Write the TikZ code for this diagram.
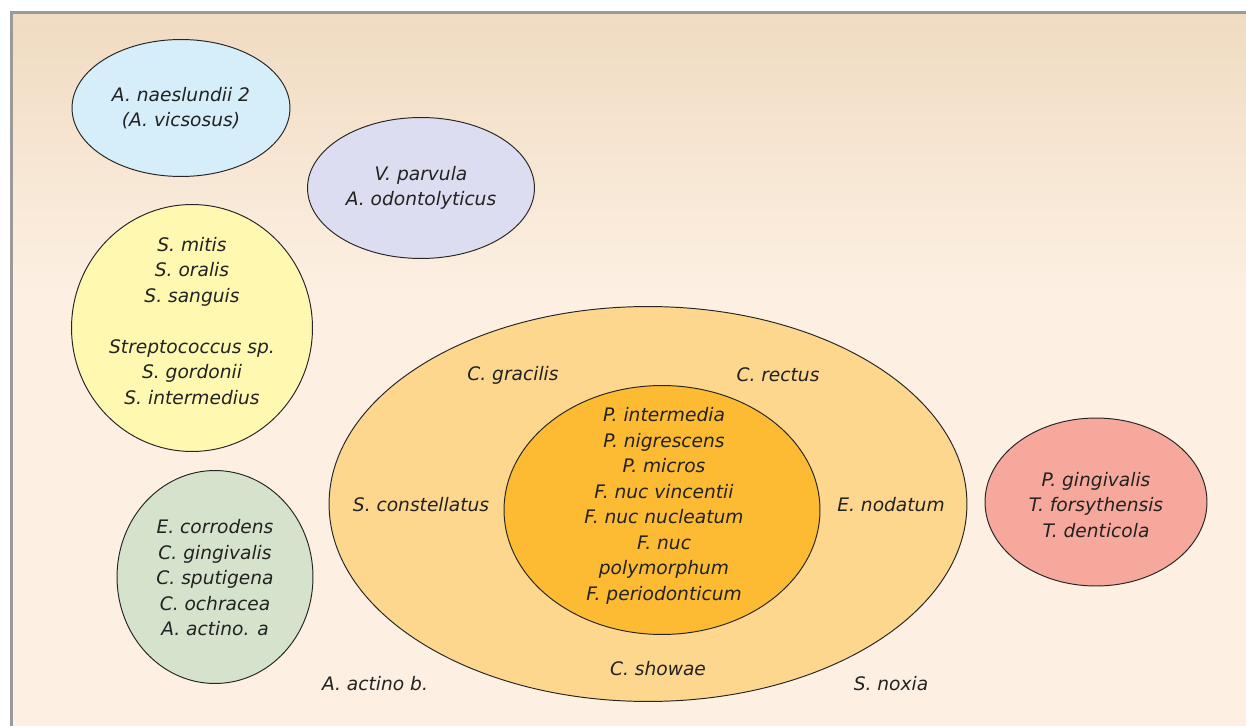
\documentclass[tikz,border=0pt]{standalone}
\usepackage{fontspec}
\setmainfont{DejaVu Sans}
\usepackage{tikz}
\usetikzlibrary{shapes.geometric}
\definecolor{bgtop}{HTML}{F0DBC1}
\definecolor{bgbottom}{HTML}{FDF0E3}
\definecolor{framegray}{HTML}{9A9A9A}
\definecolor{textgray}{HTML}{222222}
\definecolor{naesblue}{HTML}{D6EEFA}
\definecolor{veillav}{HTML}{DCDDF0}
\definecolor{streptyellow}{HTML}{FEF8B0}
\definecolor{capgreen}{HTML}{D5E3CC}
\definecolor{orangeout}{HTML}{FED78F}
\definecolor{orangein}{HTML}{FCBB33}
\definecolor{redpink}{HTML}{F7A89C}

\begin{document}
\begin{tikzpicture}[x=0.02cm, y=-0.02cm,
    blob/.style={ellipse, draw=black!85, line width=0.55pt, inner sep=0pt},
    species/.style={font=\fontsize{10.6}{14.5}\selectfont\itshape, text=textgray, align=center}
]
    \useasboundingbox (0,0) rectangle (1246,726);

    % Background panel
    \fill[white] (0,0) rectangle (1246,726);
    \shade[top color=bgtop, bottom color=bgbottom] (11,12) rectangle (1246,300);
    \fill[bgbottom] (11,300) rectangle (1246,726);
    \draw[framegray, line width=1.4pt] (11.5,726) -- (11.5,12.5) -- (1246,12.5);

    % Early colonisers
    \node[blob, fill=naesblue, minimum width=4.36cm, minimum height=2.74cm] (naes) at (181,108) {};
    \node[species] (naes_t) at (naes.center) {A. naeslundii 2\\(A. vicsosus)};

    \node[blob, fill=veillav, minimum width=4.54cm, minimum height=2.82cm] (veil) at (421,188) {};
    \node[species] (veil_t) at (veil.center) {V. parvula\\A. odontolyticus};

    \node[blob, fill=streptyellow, minimum width=4.82cm, minimum height=4.94cm] (strep) at (192,328) {};
    \node[species] (strep_t) at (192,321) {S. mitis\\S. oralis\\S. sanguis\\[14.5pt]Streptococcus sp.\\S. gordonii\\S. intermedius};

    \node[blob, fill=capgreen, minimum width=3.92cm, minimum height=4.26cm] (capno) at (215,577) {};
    \node[species] (capno_t) at (215,578) {E. corrodens\\C. gingivalis\\C. sputigena\\C. ochracea\\A. actino. a};

    % Orange complex
    \node[blob, fill=orangeout, minimum width=12.76cm, minimum height=7.90cm] (outer) at (648,504) {};
    \node[blob, fill=orangein, minimum width=6.32cm, minimum height=4.98cm] (inner) at (662,510) {};
    \node[species] (inner_t) at (664,506) {P. intermedia\\P. nigrescens\\P. micros\\F. nuc vincentii\\F. nuc nucleatum\\F. nuc\\polymorphum\\F. periodonticum};

    \node[species] (gracilis) at (513,375) {C. gracilis};
    \node[species] (rectus) at (778,375) {C. rectus};
    \node[species] (constell) at (421,505) {S. constellatus};
    \node[species] (nodatum) at (891,505) {E. nodatum};
    \node[species] (showae) at (658,669) {C. showae};
    \node[species] (actinob) at (375,684) {A. actino b.};
    \node[species] (noxia) at (891,684) {S. noxia};

    % Red complex
    \node[blob, fill=redpink, minimum width=4.44cm, minimum height=3.36cm] (redc) at (1096,502) {};
    \node[species] (redc_t) at (1096,505) {P. gingivalis\\T. forsythensis\\T. denticola};
\end{tikzpicture}
\end{document}
